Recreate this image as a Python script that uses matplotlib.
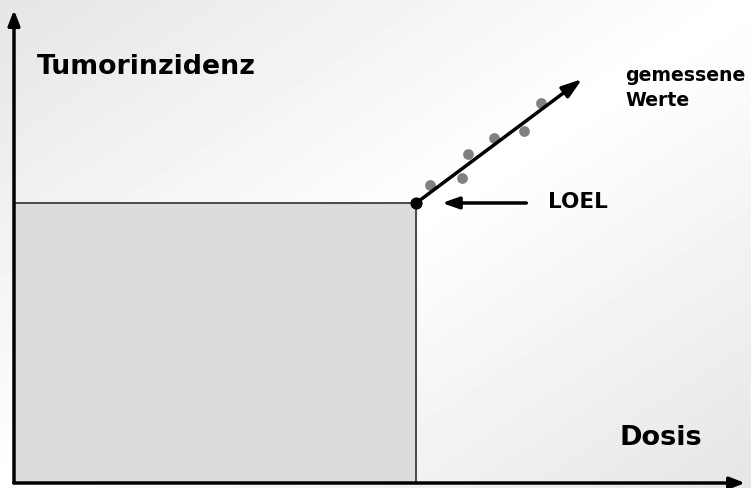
import numpy as np
import matplotlib
matplotlib.use("Agg")
import matplotlib.pyplot as plt

# values on a 0-100 scale for dose (x) and tumour incidence (y)
loel_dose = 54.8
loel_inc = 59.2
meas_dose = [56.7, 61.0, 61.9, 65.4, 69.5, 71.8]
meas_inc = [63.0, 64.5, 69.6, 72.9, 74.4, 80.3]
trend_end = (77.4, 85.4)
loel_arrow_start = 69.8
loel_arrow_end = 58.3

fig = plt.figure(figsize=(7.51, 4.88), dpi=100)
ax = fig.add_axes([0, 0, 1, 1])
# pixel 14 -> dose 0, pixel 483 (from top) -> incidence 0
ax.set_xlim(-14 / 7.34, (751 - 14) / 7.34)
ax.set_ylim(-(488 - 483) / 4.73, 483 / 4.73)
ax.axis("off")

# reflected diagonal background gradient
W, H = 200, 130
xx, yy = np.meshgrid(np.linspace(0, 1, W), np.linspace(0, 1, H))
u = np.abs(xx + yy - 1)
grad = 1 - 0.1 * u
x0, x1 = ax.get_xlim()
y0, y1 = ax.get_ylim()
ax.imshow(grad, cmap="gray", vmin=0, vmax=1, extent=[x0, x1, y0, y1],
          aspect="auto", origin="upper", zorder=0, interpolation="bilinear")

# region below LOEL
ax.fill_between([0, loel_dose], 0, loel_inc, color="#dcdcdc", zorder=1)
ax.plot([0, loel_dose, loel_dose], [loel_inc, loel_inc, 0], color="#303030",
        lw=1.2, zorder=2)

# axes with arrows
ax.annotate("", xy=(0, 100), xytext=(0, 0),
            arrowprops=dict(arrowstyle="-|>,head_width=0.35,head_length=0.9",
                            color="black", lw=2.5, shrinkA=0, shrinkB=0), zorder=3)
ax.annotate("", xy=(99.6, 0), xytext=(0, 0),
            arrowprops=dict(arrowstyle="-|>,head_width=0.35,head_length=0.9",
                            color="black", lw=2.5, shrinkA=0, shrinkB=0), zorder=3)

# measured values
ax.scatter(meas_dose, meas_inc, s=60, color="#808080", zorder=3, linewidths=0)

# trend line
ax.annotate("", xy=trend_end, xytext=(loel_dose, loel_inc),
            arrowprops=dict(arrowstyle="-|>,head_width=0.4,head_length=1.2",
                            color="black", lw=2.5, shrinkA=0, shrinkB=0), zorder=4)
ax.scatter([loel_dose], [loel_inc], s=60, color="black", zorder=5)

# LOEL arrow
ax.annotate("", xy=(loel_arrow_end, loel_inc), xytext=(loel_arrow_start, loel_inc),
            arrowprops=dict(arrowstyle="-|>,head_width=0.35,head_length=1.0",
                            color="black", lw=2.5, shrinkA=0, shrinkB=0), zorder=4)

txt = dict(fontweight="bold", color="black", zorder=6)
ax.text(3.1, 88.0, "Tumorinzidenz", fontsize=19.3, va="center", ha="left", **txt)
ax.text(82.5, 9.5, "Dosis", fontsize=19.5, va="center", ha="left", **txt)
ax.text(72.7, 59.5, "LOEL", fontsize=15.5, va="center", ha="left", **txt)
ax.text(83.3, 83.5, "gemessene\nWerte", fontsize=13.6, va="center", ha="left",
        linespacing=1.35, **txt)

fig.savefig("out.png", dpi=100)
